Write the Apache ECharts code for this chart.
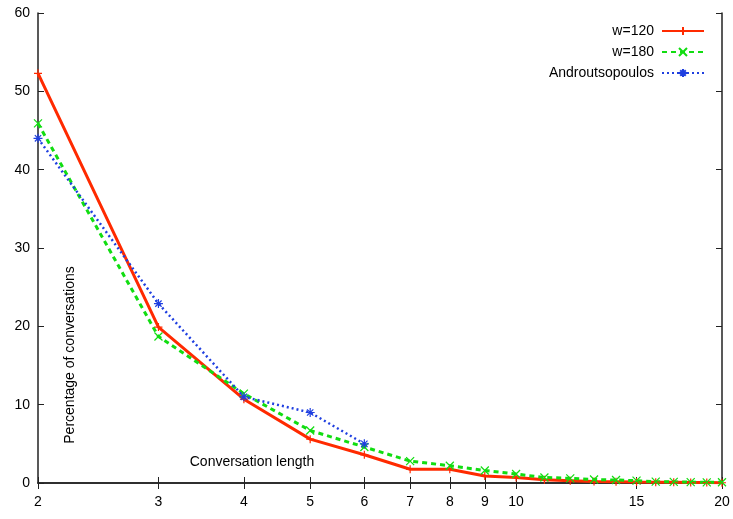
<!DOCTYPE html>
<html><head><meta charset="utf-8">
<script src="https://cdn.jsdelivr.net/npm/echarts@6/dist/echarts.min.js"></script>
<style>html,body{margin:0;padding:0;background:#fff}#c{width:733px;height:519px}</style>
</head><body><div id="c"></div>
<script>
var xTicks = [2,3,4,5,6,7,8,9,10,15,20];
var lengths = [2,3,4,5,6,7,8,9,10,11,12,13,14,15,16,17,18,19,20];
var w120 = [52.3,19.9,10.7,5.6,3.6,1.75,1.75,0.9,0.7,0.4,0.3,0.2,0.17,0.13,0.1,0.08,0.06,0.05,0.03];
var w180 = [45.9,18.7,11.4,6.7,4.6,2.8,2.2,1.6,1.15,0.7,0.6,0.45,0.38,0.3,0.17,0.15,0.12,0.08,0.1];
var androLengths = [2,3,4,5,6];
var andro = [44.0,22.9,11.0,9.0,5.0];

function pairs(xs, ys){ return xs.map(function(x,i){return [x, ys[i]];}); }

var FONT = 'Liberation Sans';
var plus = 'path://M0,5L10,5M5,0L5,10';
var cross = 'path://M0,0L10,10M10,0L0,10';
var star = 'path://M0,5L10,5M5,0L5,10M1.5,1.5L8.5,8.5M8.5,1.5L1.5,8.5';
var RED = '#ff2a00', GREEN = '#11dd11', BLUE = '#1f3fe0';
var axisLine = {show:true, lineStyle:{color:'#222', width:1.5}};

var chart = echarts.init(document.getElementById('c'));
chart.setOption({
  animation:false,
  backgroundColor:'#fff',
  textStyle:{fontFamily:FONT},
  grid:{left:38, right:11, top:13, bottom:36, containLabel:false},
  legend:{
    right:23, top:19, orient:'vertical', align:'right',
    itemWidth:42, itemHeight:10, itemGap:7,
    textStyle:{fontFamily:FONT, fontSize:14, color:'#000', padding:[0,3,0,0]},
    data:['w=120','w=180','Androutsopoulos']
  },
  xAxis:[{
    type:'log', logBase:10, min:2, max:20, position:'bottom',
    axisLine:axisLine,
    axisTick:{show:true, inside:true, length:6, customValues:xTicks, lineStyle:{color:'#222'}},
    axisLabel:{customValues:xTicks, color:'#000', fontSize:14, fontFamily:FONT, margin:12,
      formatter:function(v){return String(Math.round(v));}},
    splitLine:{show:false}, minorTick:{show:false}
  },{
    type:'log', logBase:10, min:2, max:20, position:'top',
    axisLine:axisLine,
    axisTick:{show:true, inside:true, length:6, customValues:xTicks, lineStyle:{color:'#222'}},
    axisLabel:{show:false, customValues:xTicks},
    splitLine:{show:false}
  }],
  yAxis:[{
    type:'value', min:0, max:60, interval:10, position:'left',
    axisLine:axisLine,
    axisTick:{show:true, inside:true, length:6, lineStyle:{color:'#222'}},
    axisLabel:{color:'#000', fontSize:14, fontFamily:FONT, margin:8},
    splitLine:{show:false}
  },{
    type:'value', min:0, max:60, interval:10, position:'right',
    axisLine:axisLine,
    axisTick:{show:true, inside:true, length:6, lineStyle:{color:'#222'}},
    axisLabel:{show:false},
    splitLine:{show:false}
  }],
  series:[{
    name:'w=120', type:'line', data:pairs(lengths,w120),
    symbol:plus, symbolSize:8, showAllSymbol:true,
    lineStyle:{color:RED, width:3, type:'solid'},
    itemStyle:{color:RED, borderColor:RED, borderWidth:1.2}
  },{
    name:'w=180', type:'line', data:pairs(lengths,w180),
    symbol:cross, symbolSize:8, showAllSymbol:true,
    lineStyle:{color:GREEN, width:3, type:[5,4]},
    itemStyle:{color:GREEN, borderColor:GREEN, borderWidth:1.2}
  },{
    name:'Androutsopoulos', type:'line', data:pairs(androLengths,andro),
    symbol:star, symbolSize:9, showAllSymbol:true,
    lineStyle:{color:BLUE, width:2.5, type:[2,3]},
    itemStyle:{color:BLUE, borderColor:BLUE, borderWidth:1.2}
  }],
  graphic:[{
    type:'text', x:70, y:355, rotation:Math.PI/2,
    style:{text:'Percentage of conversations', fontFamily:FONT, fontSize:14, fill:'#000',
      align:'center', verticalAlign:'middle'}
  },{
    type:'text', x:252, y:462,
    style:{text:'Conversation length', fontFamily:FONT, fontSize:14, fill:'#000',
      align:'center', verticalAlign:'middle'}
  }]
});
</script>
</body></html>
